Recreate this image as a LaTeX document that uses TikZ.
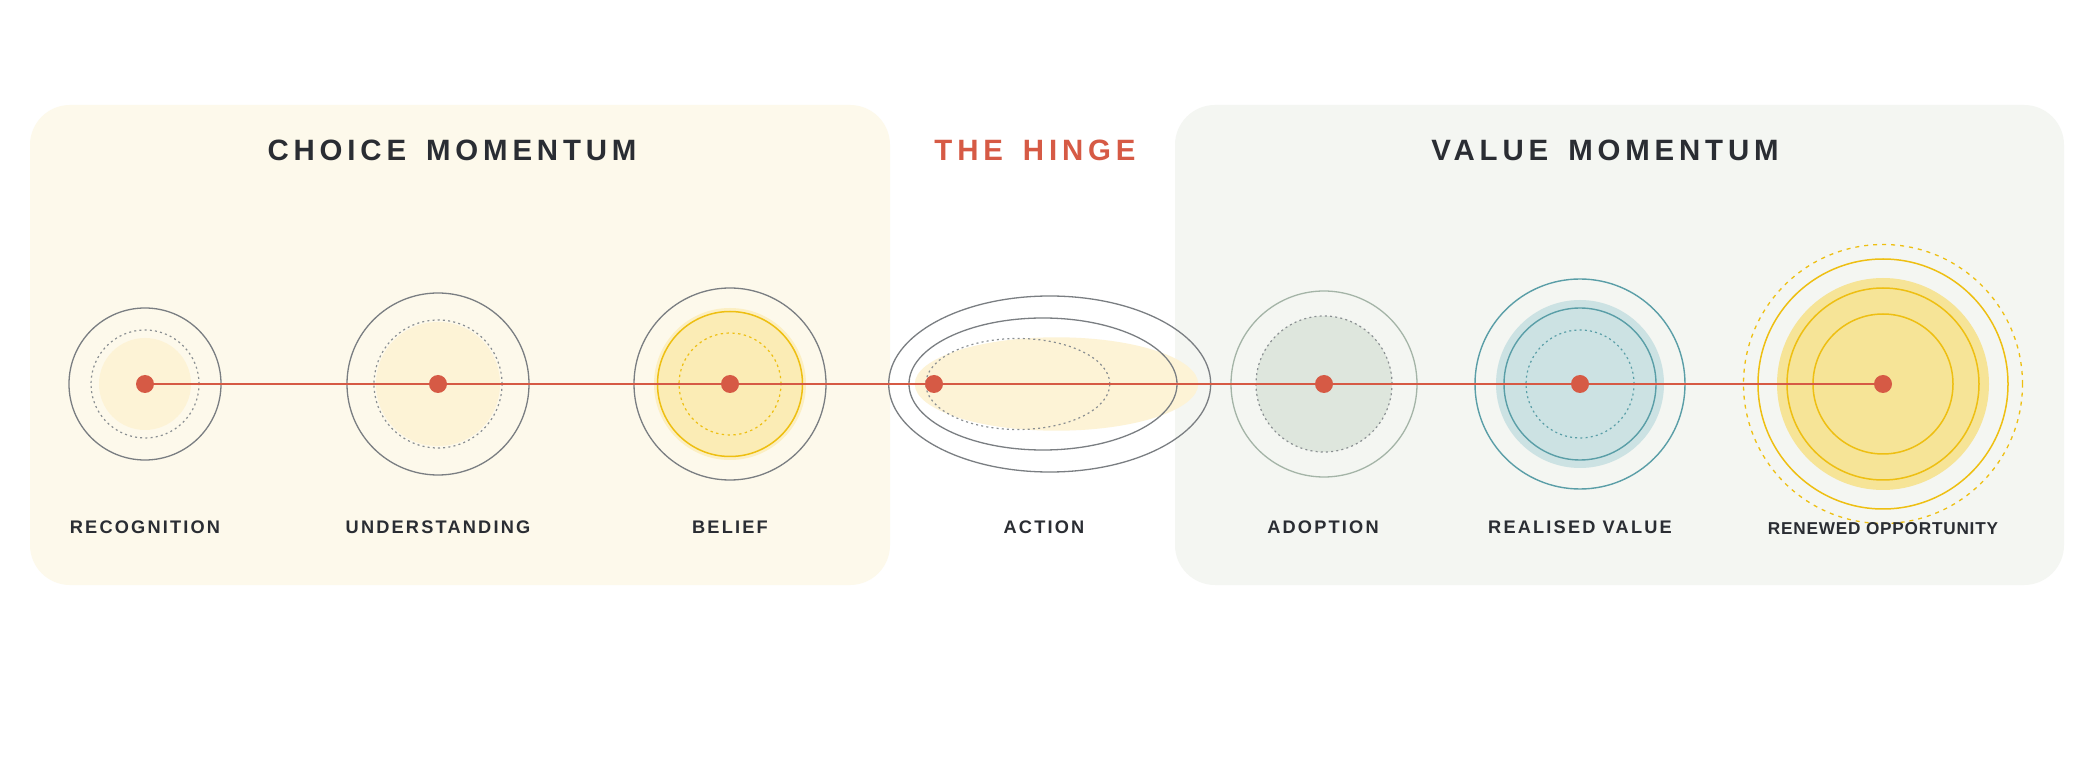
\documentclass[tikz,border=0pt]{standalone}
\usepackage{fontspec}
\setmainfont{Liberation Sans}
\newfontfamily\ttlfont[LetterSpace=16.5]{Liberation Sans}
\newfontfamily\lblfont[LetterSpace=12]{Liberation Sans}
\newfontfamily\lblfontb[LetterSpace=4.5]{Liberation Sans}
\definecolor{creampanel}{HTML}{FDF9EB}
\definecolor{greypanel}{HTML}{F4F6F2}
\definecolor{ringgrey}{HTML}{7A7E82}
\definecolor{dotgrey}{HTML}{8A8F92}
\definecolor{hingered}{HTML}{D65A45}
\definecolor{darktext}{HTML}{2A2D33}
\definecolor{paleyellow}{HTML}{FDF3D6}
\definecolor{beliefhalo}{HTML}{FCEFC2}
\definecolor{beliefin}{HTML}{FBECB5}
\definecolor{goldline}{HTML}{EEBF12}
\definecolor{sagefill}{HTML}{DEE6DD}
\definecolor{sageline}{HTML}{A4B4A7}
\definecolor{tealfill}{HTML}{CCE2E3}
\definecolor{tealline}{HTML}{5A9EA7}
\definecolor{goldfill}{HTML}{F6E497}
\tikzset{
  ring/.style={draw=ringgrey, line width=0.65pt},
  dotring/.style={draw=dotgrey, line width=0.6pt, dash pattern=on 1pt off 1.6pt},
  goldring/.style={draw=goldline, line width=0.75pt},
  golddash/.style={draw=goldline, line width=0.65pt, dash pattern=on 2pt off 2.5pt},
  golddot/.style={draw=goldline, line width=0.6pt, dash pattern=on 1.2pt off 1.7pt},
  tealring/.style={draw=tealline, line width=0.7pt},
  tealdot/.style={draw=tealline, line width=0.6pt, dash pattern=on 1pt off 1.6pt},
  sagering/.style={draw=sageline, line width=0.65pt},
  reddot/.style={circle, fill=hingered, inner sep=0pt, minimum size=9pt},
  redline/.style={draw=hingered, line width=1.05pt},
  ttl/.style={inner sep=0pt, font=\ttlfont\bfseries\fontsize{14.7}{16}\selectfont},
  lbl/.style={inner sep=0pt, text=darktext, font=\lblfont\bfseries\fontsize{9.1}{11}\selectfont},
  lblb/.style={inner sep=0pt, text=darktext, font=\lblfontb\bfseries\fontsize{8.6}{10}\selectfont},
}
\begin{document}
\begin{tikzpicture}[x=0.5pt,y=0.5pt]
\useasboundingbox (0,0) rectangle (2079,756);
\fill[white] (0,0) rectangle (2079,756);
% panels
\fill[creampanel, rounded corners=20pt] (30,171) rectangle (890,651);
\fill[greypanel, rounded corners=20pt] (1175,171) rectangle (2064,651);
% titles
\node[ttl, text=darktext] (tchoice) at (452,606) {CHOICE\hspace{3.5pt} MOMENTUM};
\node[ttl, text=hingered] (thinge) at (1035,606) {THE\hspace{3.5pt} HINGE};
\node[ttl, text=darktext] (tvalue) at (1605,606) {VALUE\hspace{3.5pt} MOMENTUM};
% centres
\coordinate (c1) at (145,372);
\coordinate (c2) at (438,372);
\coordinate (c3) at (730,372);
\coordinate (c4) at (934,372);
\coordinate (c5) at (1324,372);
\coordinate (c6) at (1580,372);
\coordinate (c7) at (1883,372);
% recognition
\fill[paleyellow] (c1) circle[radius=46];
\draw[dotring] (c1) circle[radius=54];
\draw[ring] (c1) circle[radius=76];
% understanding
\fill[paleyellow] (c2) circle[radius=62];
\draw[dotring] (c2) circle[radius=64];
\draw[ring] (c2) circle[radius=91];
% belief
\fill[beliefhalo] (c3) circle[radius=76];
\fill[beliefin] (c3) circle[radius=72.5];
\draw[goldring] (c3) circle[radius=72.5];
\draw[golddot] (c3) circle[radius=51];
\draw[ring] (c3) circle[radius=96];
% action
\fill[paleyellow] (1056.5,372) ellipse[x radius=141.7, y radius=46.7];
\draw[dotring] (1017.8,372) ellipse[x radius=92, y radius=45.5];
\draw[ring] (1043,372) ellipse[x radius=134, y radius=66];
\draw[ring] (1049.7,372) ellipse[x radius=161, y radius=88];
% adoption
\fill[sagefill] (c5) circle[radius=68];
\draw[dotring] (c5) circle[radius=68];
\draw[sagering] (c5) circle[radius=93];
% realised value
\fill[tealfill] (c6) circle[radius=84];
\draw[tealring] (c6) circle[radius=76];
\draw[tealdot] (c6) circle[radius=54];
\draw[tealring] (c6) circle[radius=105];
% renewed opportunity
\draw[golddash] (c7) circle[radius=139.5];
\draw[goldring] (c7) circle[radius=125];
\fill[goldfill] (c7) circle[radius=106];
\draw[goldring] (c7) circle[radius=96];
\draw[goldring] (c7) circle[radius=70];
% connector
\draw[redline] (c1) -- (c7);
% dots
\node[reddot] (d1) at (c1) {};
\node[reddot] (d2) at (c2) {};
\node[reddot] (d3) at (c3) {};
\node[reddot] (d4) at (c4) {};
\node[reddot] (d5) at (c5) {};
\node[reddot] (d6) at (c6) {};
\node[reddot] (d7) at (c7) {};
% labels
\node[lbl] (l1) at (145,229) {RECOGNITION};
\node[lbl] (l2) at (438,229) {UNDERSTANDING};
\node[lbl] (l3) at (730,229) {BELIEF};
\node[lbl] (l4) at (1044,229) {ACTION};
\node[lbl] (l5) at (1323,229) {ADOPTION};
\node[lbl] (l6) at (1580,229) {REALISED VALUE};
\node[lblb] (l7) at (1883,227) {RENEWED OPPORTUNITY};
\end{tikzpicture}
\end{document}
